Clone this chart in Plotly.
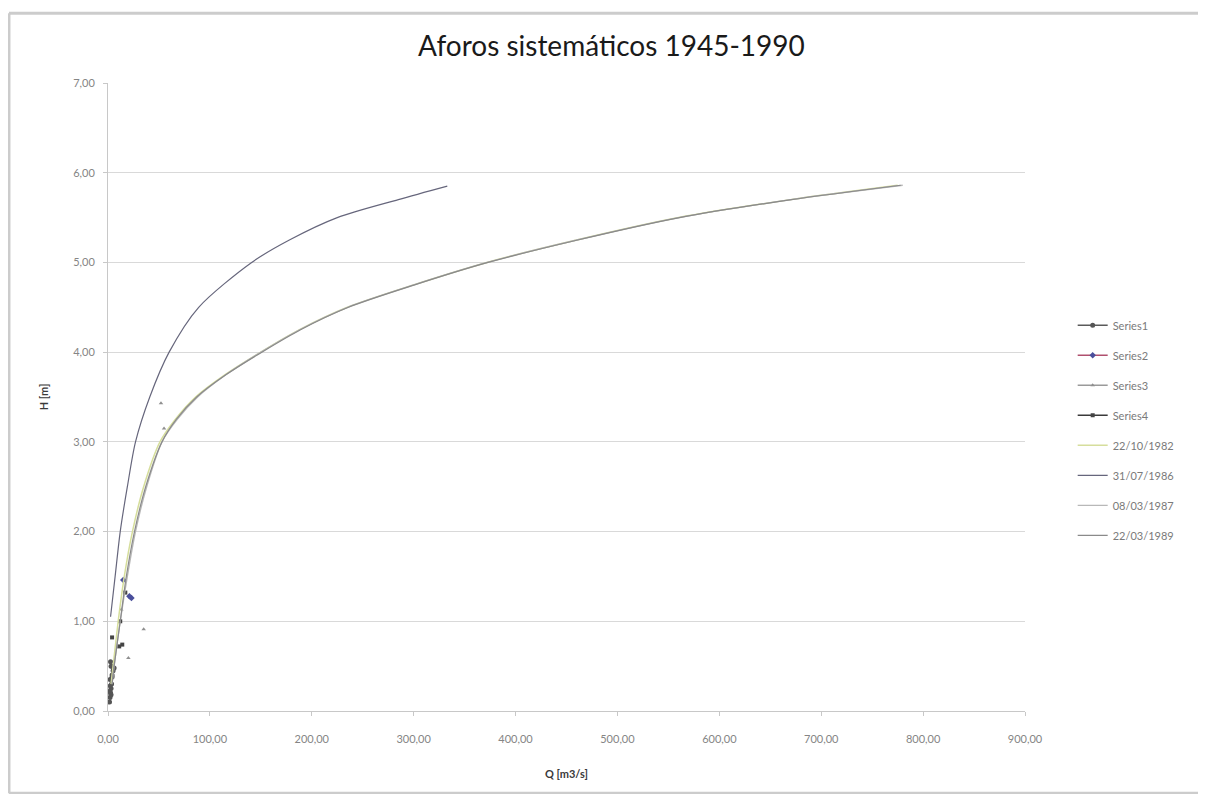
import plotly.graph_objects as go

# --- data (Q in m3/s, H in m) ---
s1_q = [1.5, 2.0, 2.5, 3.0, 3.5, 2.0, 4.0, 5.0, 3.0, 2.5, 4.0, 6.0, 4.0, 1.8, 3.0, 2.2]
s1_h = [0.10, 0.15, 0.20, 0.25, 0.30, 0.35, 0.40, 0.45, 0.50, 0.55, 0.50, 0.48, 0.38, 0.22, 0.18, 0.28]
s2_q = [15.0, 23.0, 21.0]
s2_h = [1.46, 1.26, 1.28]
s3_q = [35.0, 20.0, 52.0, 55.0, 13.0]
s3_h = [0.91, 0.59, 3.43, 3.15, 1.13]
s4_q = [4.0, 14.0, 17.0, 12.0, 11.0]
s4_h = [0.82, 0.74, 1.32, 1.00, 0.72]

# rating curves (Q for each H)
c1986_h = [1.05, 1.50, 2.00, 2.50, 3.00, 3.50, 4.00, 4.50, 5.00, 5.25, 5.50, 5.70, 5.85]
c1986_q = [2.5, 7, 12, 19, 27, 41, 60, 89, 141, 178, 225, 285, 333]
low_h = [0.30, 0.50, 1.00, 1.50, 2.00, 2.50, 3.00, 3.25, 3.50, 3.75, 4.00, 4.25, 4.50, 4.75,
         5.00, 5.25, 5.50, 5.70, 5.86]
c1982_q = [3, 5, 10, 16, 24, 35, 51, 66, 86, 115, 150, 188, 235, 300, 372, 460, 560, 670, 775]
c1987_q = [4, 6, 12, 19, 27, 38, 53, 68, 88, 116, 150, 188, 235, 300, 372, 460, 560, 670, 780]
c1989_q = [4, 6, 12, 18, 26, 37, 53, 67, 87, 116, 151, 189, 236, 301, 373, 461, 561, 671, 778]


def gapped(vals):
    """Put None between points so the series shows markers only, but a line in the legend."""
    out = []
    for v in vals:
        out += [v, None]
    return out[:-1]


FONT = "Lato, 'Open Sans', sans-serif"
fig = go.Figure()

series = [
    ("Series1", s1_q, s1_h, "#5a5a5a", "#555555", "circle", 5),
    ("Series2", s2_q, s2_h, "#b0506e", "#4a4f9c", "diamond", 5),
    ("Series3", s3_q, s3_h, "#9a9a9a", "#8f8f8f", "triangle-up", 4),
    ("Series4", s4_q, s4_h, "#3a3a3a", "#444444", "square", 4),
]
for name, q, h, lc, mc, sym, sz in series:
    fig.add_trace(go.Scatter(x=gapped(q), y=gapped(h), name=name, legendgroup=name,
                             mode="lines+markers", connectgaps=False,
                             line=dict(color=lc, width=1.5),
                             marker=dict(color=mc, size=sz, symbol=sym)))

curves = [
    ("22/10/1982", c1982_q, low_h, "#d6de9c", 1.5),
    ("31/07/1986", c1986_q, c1986_h, "#66667c", 1.2),
    ("08/03/1987", c1987_q, low_h, "#b8b8b8", 1.3),
    ("22/03/1989", c1989_q, low_h, "#8a8a8a", 1.2),
]
for name, q, h, col, w in curves:
    fig.add_trace(go.Scatter(x=q, y=h, name=name, legendgroup=name, mode="lines",
                             line=dict(color=col, width=w, shape="spline", smoothing=0.8)))

axis_common = dict(showgrid=False, zeroline=False, showline=True, linecolor="#c8c8c8",
                   ticks="outside", ticklen=4, tickcolor="#c8c8c8", automargin=False,
                   tickfont=dict(family=FONT, size=11, color="#858585"),
                   tickformat=".2f")
title_font = dict(family=FONT, size=11, color="#3a3a3a", weight="bold")
fig.update_xaxes(range=[0, 900], dtick=100, ticklabelstandoff=14, **axis_common,
                 title=dict(text="Q [m3/s]", font=title_font, standoff=26))
fig.update_yaxes(range=[0, 7], dtick=1, ticklabelstandoff=6, **axis_common)
fig.update_yaxes(showgrid=True, gridcolor="#d9d9d9", gridwidth=1,
                 title=dict(text="H [m]", font=title_font, standoff=22))

# chart frame: top, left and bottom edges (the right edge runs off the page)
frame = dict(type="line", xref="paper", yref="paper", line=dict(color="#cccccc", width=3),
             layer="below")
fig.update_layout(
    width=1190, height=786,
    separators=",.",
    paper_bgcolor="white", plot_bgcolor="white",
    margin=dict(l=100, r=173, t=75, b=83),
    title=dict(text="Aforos sistemáticos 1945-1990", x=0.549, xanchor="center", xref="paper",
               y=0.952, yanchor="middle", font=dict(family=FONT, size=28, color="#1a1a1a")),
    legend=dict(x=1.052, y=0.447, xanchor="left", yanchor="middle", traceorder="grouped",
                tracegroupgap=11, itemwidth=30, font=dict(family=FONT, size=11, color="#7a7a7a"),
                bgcolor="rgba(0,0,0,0)"),
    showlegend=True,
    shapes=[
        dict(frame, x0=-0.108, x1=1.25, y0=1.111, y1=1.111),
        dict(frame, x0=-0.108, x1=-0.108, y0=-0.131, y1=1.111),
        dict(frame, x0=-0.108, x1=1.25, y0=-0.131, y1=-0.131),
    ],
)

fig.write_html("out.html")
